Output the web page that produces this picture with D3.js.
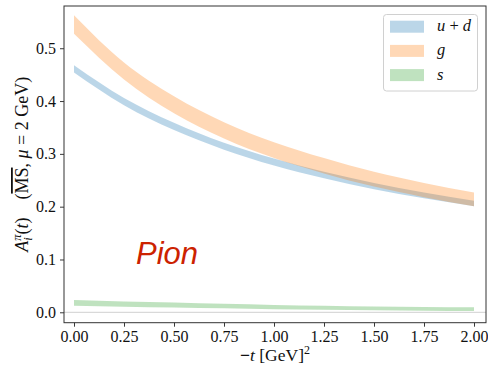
<!DOCTYPE html>
<html>
<head>
<meta charset="utf-8">
<script src="https://cdn.jsdelivr.net/npm/d3@7"></script>
<style>
  body { margin: 0; background: #fff; }
  svg text { font-family: "Liberation Serif", "DejaVu Serif", serif; }
</style>
</head>
<body>
<div id="chart"></div>
<script>
const tValues = [0, 0.25, 0.5, 0.75, 1.0, 1.25, 1.5, 1.75, 2.0];

// u+d band
const udLow  = [0.454, 0.392, 0.345, 0.308, 0.278, 0.254, 0.233, 0.216, 0.201];
const udHigh = [0.468, 0.406, 0.359, 0.321, 0.291, 0.266, 0.245, 0.227, 0.211];

// gluon band
const gLow  = [0.5275, 0.441, 0.377, 0.329, 0.292, 0.263, 0.238, 0.218, 0.201];
const gHigh = [0.5625, 0.473, 0.409, 0.360, 0.322, 0.292, 0.266, 0.245, 0.227];

// strange band
const sLow  = [0.0125, 0.0105, 0.009, 0.0075, 0.006, 0.005, 0.004, 0.003, 0.0025];
const sHigh = [0.0235, 0.0205, 0.0185, 0.016, 0.014, 0.0125, 0.011, 0.010, 0.0095];

const xTicks = [0, 0.25, 0.5, 0.75, 1.0, 1.25, 1.5, 1.75, 2.0];
const yTicks = [0, 0.1, 0.2, 0.3, 0.4, 0.5];

const W = 488, H = 369;
const mLeft = 64, mTop = 6, mRight = 486, mBottom = 322.7;

const svg = d3.select("#chart").append("svg")
  .attr("width", W)
  .attr("height", H);

const x = d3.scaleLinear().domain([-0.05, 2.06]).range([mLeft, mRight]);
const y = d3.scaleLinear().domain([-0.0197, 0.58]).range([mBottom, mTop]);

const plot = svg.append("g");

// zero line
plot.append("line")
  .attr("x1", mLeft).attr("x2", mRight)
  .attr("y1", y(0)).attr("y2", y(0))
  .attr("stroke", "#d9d9d9")
  .attr("stroke-width", 1.2);

const bands = [
  { name: "u+d", lo: udLow, hi: udHigh, color: "#1f77b4" },
  { name: "g", lo: gLow, hi: gHigh, color: "#ff7f0e" },
  { name: "s", lo: sLow, hi: sHigh, color: "#2ca02c" }
];

const area = d3.area()
  .x(d => x(d.t))
  .y0(d => y(d.lo))
  .y1(d => y(d.hi))
  .curve(d3.curveMonotoneX);

for (const b of bands) {
  const rows = tValues.map((t, i) => ({ t: t, lo: b.lo[i], hi: b.hi[i] }));
  plot.append("path")
    .datum(rows)
    .attr("d", area)
    .attr("fill", b.color)
    .attr("fill-opacity", 0.3);
}

// axes
const xAxis = d3.axisBottom(x)
  .tickValues(xTicks)
  .tickFormat(d3.format(".2f"))
  .tickSize(4)
  .tickPadding(4);
const yAxis = d3.axisLeft(y)
  .tickValues(yTicks)
  .tickFormat(d3.format(".1f"))
  .tickSize(4)
  .tickPadding(4);

const gx = svg.append("g")
  .attr("transform", `translate(0,${mBottom})`)
  .call(xAxis);
const gy = svg.append("g")
  .attr("transform", `translate(${mLeft},0)`)
  .call(yAxis);

for (const g of [gx, gy]) {
  g.select(".domain").remove();
  g.selectAll(".tick line").attr("stroke", "#222").attr("stroke-width", 0.9);
  g.selectAll(".tick text")
    .attr("fill", "#111")
    .style("font-size", "16px")
    .style("font-family", "'Liberation Serif', serif");
}
gx.selectAll(".tick text").attr("dy", "0.7em");

// frame
svg.append("rect")
  .attr("x", mLeft).attr("y", mTop)
  .attr("width", mRight - mLeft).attr("height", mBottom - mTop)
  .attr("fill", "none")
  .attr("stroke", "#333")
  .attr("stroke-width", 1);

// Pion label
svg.append("text")
  .attr("x", x(0.31))
  .attr("y", y(0.091))
  .attr("fill", "#cc2200")
  .style("font-family", "'Liberation Sans', Arial, sans-serif")
  .style("font-style", "italic")
  .style("font-size", "31px")
  .text("Pion");

// x label
const xl = svg.append("text")
  .attr("x", (mLeft + mRight) / 2)
  .attr("y", 361)
  .attr("text-anchor", "middle")
  .style("font-size", "17.5px")
  .attr("fill", "#111");
xl.append("tspan").style("font-weight", "bold").text("\u2212");
xl.append("tspan").style("font-style", "italic").text("t");
xl.append("tspan").text(" [GeV]");
xl.append("tspan").attr("dy", -7).style("font-size", "12px").text("2");

// y label
const yl = svg.append("text")
  .attr("transform", `translate(28,${(mTop + mBottom) / 2}) rotate(-90)`)
  .attr("text-anchor", "middle")
  .style("font-size", "18px")
  .attr("fill", "#111");
yl.append("tspan").style("font-style", "italic").text("A");
yl.append("tspan").attr("dy", 4).style("font-size", "12.5px").style("font-style", "italic").text("i");
yl.append("tspan").attr("dx", -3.5).attr("dy", -11).style("font-size", "12.5px").style("font-style", "italic").text("\u03c0");
yl.append("tspan").attr("dy", 7).text("(");
yl.append("tspan").style("font-style", "italic").text("t");
yl.append("tspan").text(")\u2003(");
yl.append("tspan").style("text-decoration", "overline").text("MS");
yl.append("tspan").text(", ");
yl.append("tspan").style("font-style", "italic").text("\u03bc");
yl.append("tspan").text(" = 2 GeV)");

// legend
const leg = svg.append("g");
leg.append("rect")
  .attr("x", 383.5).attr("y", 14.5)
  .attr("width", 94).attr("height", 76.5)
  .attr("rx", 3)
  .attr("fill", "#fff")
  .attr("fill-opacity", 0.8)
  .attr("stroke", "#d0d0d0")
  .attr("stroke-width", 1);

const legLabels = [["u", " + ", "d"], ["g"], ["s"]];
bands.forEach((b, i) => {
  const cy = 26.7 + i * 24.2;
  leg.append("rect")
    .attr("x", 390).attr("y", cy - 6)
    .attr("width", 34).attr("height", 12)
    .attr("fill", b.color)
    .attr("fill-opacity", 0.3);
  const t = leg.append("text")
    .attr("x", 437).attr("y", cy + 4.5)
    .style("font-size", "16.5px")
    .attr("fill", "#111");
  legLabels[i].forEach(part => {
    t.append("tspan")
      .style("font-style", part.trim() === "+" ? "normal" : "italic")
      .text(part);
  });
});
</script>
</body>
</html>
